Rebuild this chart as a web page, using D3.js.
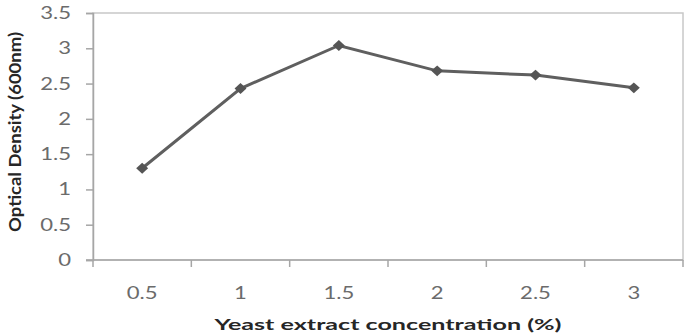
<!DOCTYPE html>
<html>
<head>
<meta charset="utf-8">
<script src="https://cdn.jsdelivr.net/npm/d3@7"></script>
<style>
  body { margin: 0; background: #fff; }
  svg text { font-family: Lato, "Open Sans", sans-serif; }
</style>
</head>
<body>
<svg id="chart" width="686" height="336"></svg>
<script>
const categories = ["0.5", "1", "1.5", "2", "2.5", "3"];
const density = [1.30, 2.43, 3.04, 2.68, 2.62, 2.44];
const yTicks = [0, 0.5, 1, 1.5, 2, 2.5, 3, 3.5];

const svg = d3.select("#chart");
const margin = { top: 13, right: 3, bottom: 76, left: 93 };
const width = +svg.attr("width");
const height = +svg.attr("height");
const innerW = width - margin.left - margin.right;
const innerH = height - margin.top - margin.bottom;
const axisGrey = "#a6a6a6";
const labelGrey = "#6b6b6b";

const x = d3.scaleBand().domain(categories).range([0, innerW]);
const y = d3.scaleLinear().domain([0, 3.5]).range([innerH, 0]);

const g = svg.append("g").attr("transform", `translate(${margin.left},${margin.top})`);

// plot area border (top / right)
g.append("rect")
  .attr("width", innerW).attr("height", innerH)
  .attr("fill", "none")
  .attr("stroke", "#c8c8c8")
  .attr("stroke-width", 1.5);

// value axis
const yAxis = g.append("g")
  .call(d3.axisLeft(y).tickValues(yTicks).tickSize(7).tickFormat(""));
yAxis.select(".domain").attr("stroke", axisGrey).attr("stroke-width", 1.5);
yAxis.selectAll(".tick line").attr("stroke", axisGrey).attr("stroke-width", 1.5);
g.append("g").selectAll("text")
  .data(yTicks)
  .join("text")
  .attr("transform", (d) => `translate(-22,${y(d) + 6}) scale(1.3,1)`)
  .attr("text-anchor", "end")
  .attr("fill", labelGrey)
  .attr("font-size", 17)
  .text((d) => d);

// category axis: ticks on band boundaries
const xAxis = g.append("g").attr("transform", `translate(0,${innerH})`);
xAxis.append("line")
  .attr("x1", -7).attr("x2", innerW)
  .attr("stroke", axisGrey).attr("stroke-width", 1.5);
const bounds = categories.map((c) => x(c)).concat([innerW]);
xAxis.selectAll("line.tick")
  .data(bounds)
  .join("line")
  .attr("class", "tick")
  .attr("x1", (d) => d).attr("x2", (d) => d)
  .attr("y1", 0).attr("y2", 7)
  .attr("stroke", axisGrey).attr("stroke-width", 1.5);
xAxis.selectAll("text")
  .data(categories)
  .join("text")
  .attr("transform", (d) => `translate(${x(d) + x.bandwidth() / 2},39) scale(1.3,1)`)
  .attr("text-anchor", "middle")
  .attr("fill", labelGrey)
  .attr("font-size", 17)
  .text((d) => d);

// series
const pts = categories.map((c, i) => ({ c, v: density[i] }));
const line = d3.line()
  .x((d) => x(d.c) + x.bandwidth() / 2)
  .y((d) => y(d.v));

g.append("path")
  .datum(pts)
  .attr("d", line)
  .attr("fill", "none")
  .attr("stroke", "#5f5f5f")
  .attr("stroke-width", 3);

g.selectAll("path.marker")
  .data(pts)
  .join("path")
  .attr("class", "marker")
  .attr("d", d3.symbol(d3.symbolDiamond2, 75))
  .attr("transform", (d) => `translate(${x(d.c) + x.bandwidth() / 2},${y(d.v)}) scale(1.1,1)`)
  .attr("fill", "#555");

// axis titles
svg.append("text")
  .attr("transform", `translate(21,132) rotate(-90)`)
  .attr("text-anchor", "middle")
  .attr("font-size", 17)
  .attr("font-weight", "bold")
  .attr("fill", "#262626")
  .attr("textLength", 200)
  .attr("lengthAdjust", "spacingAndGlyphs")
  .text("Optical Density (600nm)");

svg.append("text")
  .attr("x", 388)
  .attr("y", 330)
  .attr("text-anchor", "middle")
  .attr("font-size", 16)
  .attr("font-weight", "bold")
  .attr("fill", "#262626")
  .attr("textLength", 347)
  .attr("lengthAdjust", "spacingAndGlyphs")
  .text("Yeast extract concentration (%)");
</script>
</body>
</html>
